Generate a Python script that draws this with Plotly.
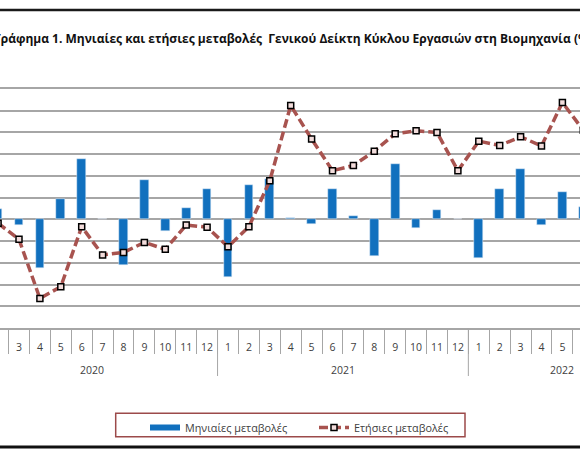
import plotly.graph_objects as go

# categories: month numbers, grouped by year
years = ["2020", "2021", "2022"]
months_per_year = [12, 12, 9]
months = [str(m) for n in months_per_year for m in range(1, n + 1)]

# monthly change (%) - bars ; None = outside the visible part of the chart
monthly = [None, 2.3, -1.3, -11.1, 4.6, 13.8, 0.0, -10.5, 9.1, -2.6, 2.7, 6.9,
           -13.2, 7.9, 9.4, 0.3, -1.1, 7.1, 0.8, -8.4, 12.8, -2.1, 2.1, 0.0,
           -9.0, 7.1, 11.5, -1.3, 6.4, 2.9, None, None, None]
# annual change (%) - dashed line
annual = [None, -0.9, -4.6, -18.2, -15.5, -1.7, -8.2, -7.6, -5.3, -6.9, -1.3, -1.8,
          -6.3, -1.7, 8.9, 26.2, 18.5, 11.2, 12.4, 15.7, 19.7, 20.4, 20.0, 11.2,
          18.0, 17.0, 19.0, 16.9, 26.9, 20.5, None, None, None]

title = "Γράφημα 1. Μηνιαίες και ετήσιες μεταβολές\u00a0 Γενικού Δείκτη Κύκλου Εργασιών στη Βιομηχανία (%)"

BLUE = "#1170BE"
RED = "#A8534F"
GRID = "#A6A6A6"
FONT = "Open Sans"
TOP, BOT = 89, 328          # plot area, px from the top of the page
H = BOT - TOP


def py(pix):
    """page pixel row -> paper y"""
    return (BOT - pix) / H


idx = list(range(len(months)))
seps = [i + 0.5 for i in idx[:-1]]
year_ends, year_mid = [], []
start = 0
for n in months_per_year:
    year_mid.append(start + (n - 1) / 2)
    start += n
    year_ends.append(start - 0.5)

fig = go.Figure()
fig.add_trace(go.Bar(x=idx, y=monthly, marker_color=BLUE, width=0.42,
                     showlegend=False, name="Μηνιαίες μεταβολές"))
# legend proxy so the bar series shows a wide swatch like the original
fig.add_trace(go.Scatter(x=[None], y=[None], mode="lines", name="Μηνιαίες μεταβολές",
                         line=dict(color=BLUE, width=6)))
fig.add_trace(go.Scatter(x=idx, y=annual, mode="lines+markers", name="Ετήσιες μεταβολές",
                         line=dict(color=RED, width=3.5, dash="9px,4px"),
                         marker=dict(symbol="square", size=6, color="#F2DCDB",
                                     line=dict(color="black", width=1.5))))

fig.update_layout(
    width=580, height=460,
    margin=dict(l=0, r=0, t=TOP, b=460 - BOT),
    plot_bgcolor="white", paper_bgcolor="white",
    font=dict(family=FONT, size=10.5, color="#404040"),
    bargap=0,
    xaxis=dict(range=[1.091, 28.842], tickvals=idx, ticktext=months, ticks="",
               showgrid=False, zeroline=False, showline=True, linecolor=GRID,
               linewidth=1.5, mirror=True, ticklabelstandoff=9,
               tickfont=dict(size=10.5, color="#404040"),
               minor=dict(tickvals=seps, ticks="outside", ticklen=24,
                          tickcolor=GRID, tickwidth=1)),
    xaxis2=dict(overlaying="x", matches="x", anchor="free", position=25 / 55,
                tickvals=seps, ticks="outside", ticklen=3, tickcolor=GRID,
                showticklabels=False, showgrid=False, zeroline=False, showline=False),
    yaxis=dict(range=[-25, 30], dtick=5, showticklabels=False, showgrid=True,
               gridcolor=GRID, gridwidth=1.5, zeroline=False),
    legend=dict(orientation="h", x=145 / 580, y=py(413), xanchor="left", yanchor="top",
                borderwidth=0, bgcolor="rgba(0,0,0,0)", entrywidth=124,
                font=dict(size=10.8, color="#404040")),
    showlegend=True,
)

# legend frame
fig.add_shape(type="rect", xref="paper", yref="paper", x0=115.7 / 580, x1=465 / 580,
              y0=py(413.3), y1=py(436.7), line=dict(color="#9C4A4A", width=1.5))

# year separators and year labels of the two-level category axis
for e in year_ends[:-1]:
    fig.add_shape(type="line", xref="x", yref="paper", x0=e, x1=e, y0=0, y1=py(376),
                  line=dict(color=GRID, width=1))
for y, m in zip(years, year_mid):
    fig.add_annotation(x=m, y=py(370), xref="x", yref="paper", text=y, yanchor="middle",
                       showarrow=False, font=dict(size=10.5, color="#404040"))

# title
fig.add_annotation(x=-0.013, y=py(38), xref="paper", yref="paper", yanchor="middle",
                   xanchor="left", text="<b>" + title + "</b>", showarrow=False,
                   font=dict(size=12, color="#111111"))
# black frame rules above the title and below the legend (thin filled bands)
fig.add_shape(type="rect", xref="paper", yref="paper", x0=0, x1=1,
              y0=py(11.2), y1=py(8.8), fillcolor="#1a1a1a", line=dict(width=0))
fig.add_shape(type="rect", xref="paper", yref="paper", x0=0, x1=1,
              y0=py(448.5), y1=py(445.5), fillcolor="#111111", line=dict(width=0))

# drop the browser's default body margin so the figure sits at the window's corner
fig.write_html("out.html", config={"displayModeBar": False},
               post_script="document.body.style.margin='0';")
